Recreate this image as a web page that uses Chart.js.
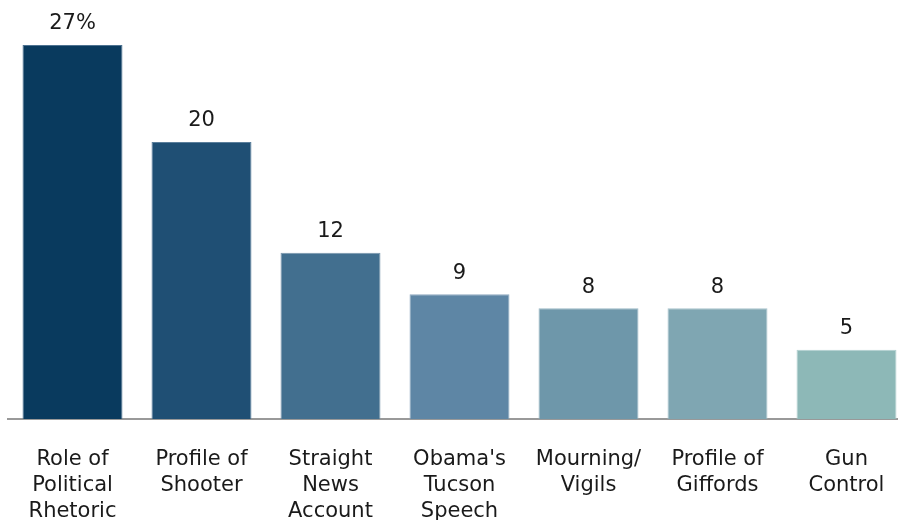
<!DOCTYPE html>
<html>
<head>
<meta charset="utf-8">
<script src="https://cdn.jsdelivr.net/npm/chart.js@4.4.1/dist/chart.umd.min.js"></script>
<style>
  html, body { margin: 0; padding: 0; background: #fff; overflow: hidden; }
  #wrap { position: relative; width: 912px; height: 520px; }
</style>
</head>
<body>
<div id="wrap"><canvas id="chart"></canvas></div>
<script>
// topics and share of coverage (%)
const topics = [
  ['Role of', 'Political', 'Rhetoric'],
  ['Profile of', 'Shooter'],
  ['Straight', 'News', 'Account'],
  ["Obama's", 'Tucson', 'Speech'],
  ['Mourning/', 'Vigils'],
  ['Profile of', 'Giffords'],
  ['Gun', 'Control']
];
const shares = [27, 20, 12, 9, 8, 8, 5];
const shareLabels = ['27%', '20', '12', '9', '8', '8', '5'];

const fills = ['#093a5e', '#1f4f74', '#426f8f', '#5e86a5', '#6e97aa', '#7fa6b2', '#8db8b7'];
const edges = ['#4d7291', '#5b7f9c', '#7894ab', '#8ea9bf', '#9bb8c5', '#a8c3cc', '#b3d0cf'];

const FONT = 'Verdana, "DejaVu Sans", sans-serif';

// numbers over each bar
const valueLabels = {
  id: 'valueLabels',
  afterDatasetsDraw(chart) {
    const ctx = chart.ctx;
    const meta = chart.getDatasetMeta(0);
    ctx.save();
    ctx.font = '21px ' + FONT;
    ctx.fillStyle = '#1a1a1a';
    ctx.textAlign = 'center';
    ctx.textBaseline = 'middle';
    meta.data.forEach((bar, i) => {
      ctx.fillText(shareLabels[i], bar.x, bar.y - 21);
    });
    ctx.restore();
  }
};

new Chart(document.getElementById('chart'), {
  type: 'bar',
  data: {
    labels: topics,
    datasets: [{
      data: shares,
      backgroundColor: fills,
      borderColor: edges,
      borderWidth: 1,
      barPercentage: 0.775,
      categoryPercentage: 1
    }]
  },
  options: {
    responsive: true,
    maintainAspectRatio: false,
    animation: false,
    layout: { padding: { top: 45, left: 8, right: 1, bottom: 0 } },
    plugins: { legend: { display: false }, tooltip: { enabled: false } },
    scales: {
      x: {
        grid: { display: false },
        border: { display: true, color: '#999', width: 2 },
        ticks: {
          color: '#1a1a1a',
          padding: 20,
          maxRotation: 0,
          autoSkip: false,
          font: { family: FONT, size: 21, lineHeight: 1.22 }
        },
        afterFit(scale) { scale.height = 101; }
      },
      y: { display: false, min: 0, max: 27 }
    }
  },
  plugins: [valueLabels]
});
</script>
</body>
</html>
